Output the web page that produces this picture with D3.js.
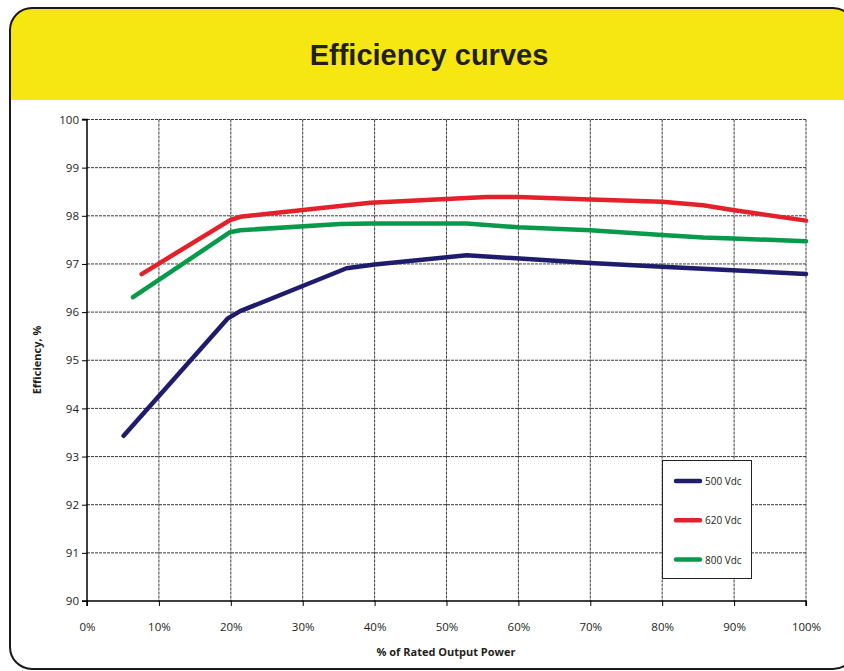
<!DOCTYPE html>
<html>
<head>
<meta charset="utf-8">
<script src="https://cdn.jsdelivr.net/npm/d3@7"></script>
<style>
  html, body { margin: 0; padding: 0; background: #fff; }
  svg { display: block; }
</style>
</head>
<body>
<svg id="chart" width="844" height="671"></svg>
<script>
const title = "Efficiency curves";
const xLabel = "% of Rated Output Power";
const yLabel = "Efficiency, %";
const xTicks = [0, 10, 20, 30, 40, 50, 60, 70, 80, 90, 100];
const yTicks = [90, 91, 92, 93, 94, 95, 96, 97, 98, 99, 100];
const seriesNames = ["500 Vdc", "620 Vdc", "800 Vdc"];
const seriesColors = ["#1f1c6e", "#e4202a", "#079a4a"];

const load500 = [5.1, 19.6, 21.3, 36.1, 40, 52.8, 70, 80, 89.8, 100];
const eff500  = [93.43, 95.87, 96.02, 96.91, 96.99, 97.18, 97.02, 96.94, 96.87, 96.79];

const load620 = [7.6, 19.9, 21.3, 39.4, 50, 55.6, 60, 70, 80, 85.7, 89.8, 100];
const eff620  = [96.79, 97.91, 97.98, 98.27, 98.35, 98.39, 98.39, 98.34, 98.29, 98.22, 98.12, 97.90];

const load800 = [6.4, 19.9, 21.3, 35.2, 39.4, 52.8, 60, 70, 80, 85.7, 89.8, 100];
const eff800  = [96.31, 97.66, 97.70, 97.83, 97.84, 97.84, 97.76, 97.70, 97.60, 97.55, 97.53, 97.47];

const series = [
  { name: seriesNames[0], color: seriesColors[0], pts: load500.map((x, i) => [x, eff500[i]]) },
  { name: seriesNames[1], color: seriesColors[1], pts: load620.map((x, i) => [x, eff620[i]]) },
  { name: seriesNames[2], color: seriesColors[2], pts: load800.map((x, i) => [x, eff800[i]]) }
];

const svg = d3.select("#chart");

// frame
const fx = 10, fy = 8, fw = 845, fh = 661, r = 22;
const clipId = "frameclip";
svg.append("defs").append("clipPath").attr("id", clipId)
  .append("rect").attr("x", fx).attr("y", fy).attr("width", fw).attr("height", fh).attr("rx", r).attr("ry", r);
svg.append("rect").attr("x", fx).attr("y", fy).attr("width", fw).attr("height", fh)
  .attr("rx", r).attr("ry", r).attr("fill", "#fff");
svg.append("rect").attr("x", fx).attr("y", fy).attr("width", fw).attr("height", 100 - fy)
  .attr("fill", "#f6e713").attr("clip-path", `url(#${clipId})`);
svg.append("rect").attr("x", fx).attr("y", fy).attr("width", fw).attr("height", fh)
  .attr("rx", r).attr("ry", r).attr("fill", "none").attr("stroke", "#1a1a1a").attr("stroke-width", 2);

svg.append("text").attr("x", 429).attr("y", 65).attr("text-anchor", "middle")
  .attr("font-family", "'Liberation Sans', Arial, sans-serif").attr("font-weight", "bold")
  .attr("font-size", 29).attr("fill", "#231f20").text(title);

const x = d3.scaleLinear().domain([0, 100]).range([87, 806]);
const y = d3.scaleLinear().domain([90, 100]).range([601, 119.5]);

const font = "'Open Sans', 'Noto Sans', sans-serif";

// grid
const grid = svg.append("g");
grid.selectAll(".vg").data(xTicks.slice(1)).join("line")
  .attr("x1", d => x(d)).attr("x2", d => x(d)).attr("y1", y(100)).attr("y2", y(90))
  .attr("stroke", "#3a3a3a").attr("stroke-width", 1).attr("stroke-dasharray", "3,1");
grid.selectAll(".hg").data(yTicks.slice(1)).join("line")
  .attr("x1", x(0)).attr("x2", x(100)).attr("y1", d => y(d)).attr("y2", d => y(d))
  .attr("stroke", "#3a3a3a").attr("stroke-width", 1).attr("stroke-dasharray", "3,1");

// axes
const xAxis = d3.axisBottom(x).tickValues(xTicks).tickFormat(d => d + "%").tickSize(5).tickPadding(17);
const yAxis = d3.axisLeft(y).tickValues(yTicks).tickFormat(d => d).tickSize(5).tickPadding(3);
const gx = svg.append("g").attr("transform", `translate(0,${y(90)})`).call(xAxis);
const gy = svg.append("g").attr("transform", `translate(${x(0)},0)`).call(yAxis);
[gx, gy].forEach(g => {
  g.select(".domain").attr("stroke", "#000").attr("stroke-width", 1.5);
  g.selectAll(".tick line").attr("stroke", "#000");
  g.selectAll("text").attr("font-family", font).attr("font-size", 11.5).attr("fill", "#231f20");
});
gy.select(".domain").attr("d", `M-5,${y(100)}H0V${y(90)}H-5`);
gx.select(".domain").attr("d", `M${x(0)},5V0H${x(100)}V5`);

// axis titles
svg.append("text").attr("x", 446).attr("y", 656).attr("text-anchor", "middle")
  .attr("font-family", font).attr("font-weight", "bold").attr("font-size", 11).attr("fill", "#231f20").text(xLabel);
svg.append("text").attr("transform", `translate(41,360) rotate(-90)`).attr("text-anchor", "middle")
  .attr("font-family", font).attr("font-weight", "bold").attr("font-size", 11).attr("fill", "#231f20").text(yLabel);

// lines
const line = d3.line().x(d => x(d[0])).y(d => y(d[1])).curve(d3.curveLinear);
svg.append("g").selectAll("path").data(series).join("path")
  .attr("d", d => line(d.pts)).attr("fill", "none").attr("stroke", d => d.color)
  .attr("stroke-width", 4.5).attr("stroke-linecap", "round").attr("stroke-linejoin", "round");

// legend
const lg = svg.append("g");
lg.append("rect").attr("x", 662.5).attr("y", 460.5).attr("width", 89).attr("height", 118)
  .attr("fill", "#fff").attr("stroke", "#222").attr("stroke-width", 1);
const items = lg.selectAll(".item").data(series).join("g")
  .attr("transform", (d, i) => `translate(0,${481 + i * 39.3})`);
items.append("line").attr("x1", 676).attr("x2", 700).attr("y1", 0).attr("y2", 0)
  .attr("stroke", d => d.color).attr("stroke-width", 4.5).attr("stroke-linecap", "round");
items.append("text").attr("x", 705).attr("y", 4).attr("font-family", font).attr("font-size", 10)
  .attr("fill", "#231f20").text(d => d.name);
</script>
</body>
</html>
